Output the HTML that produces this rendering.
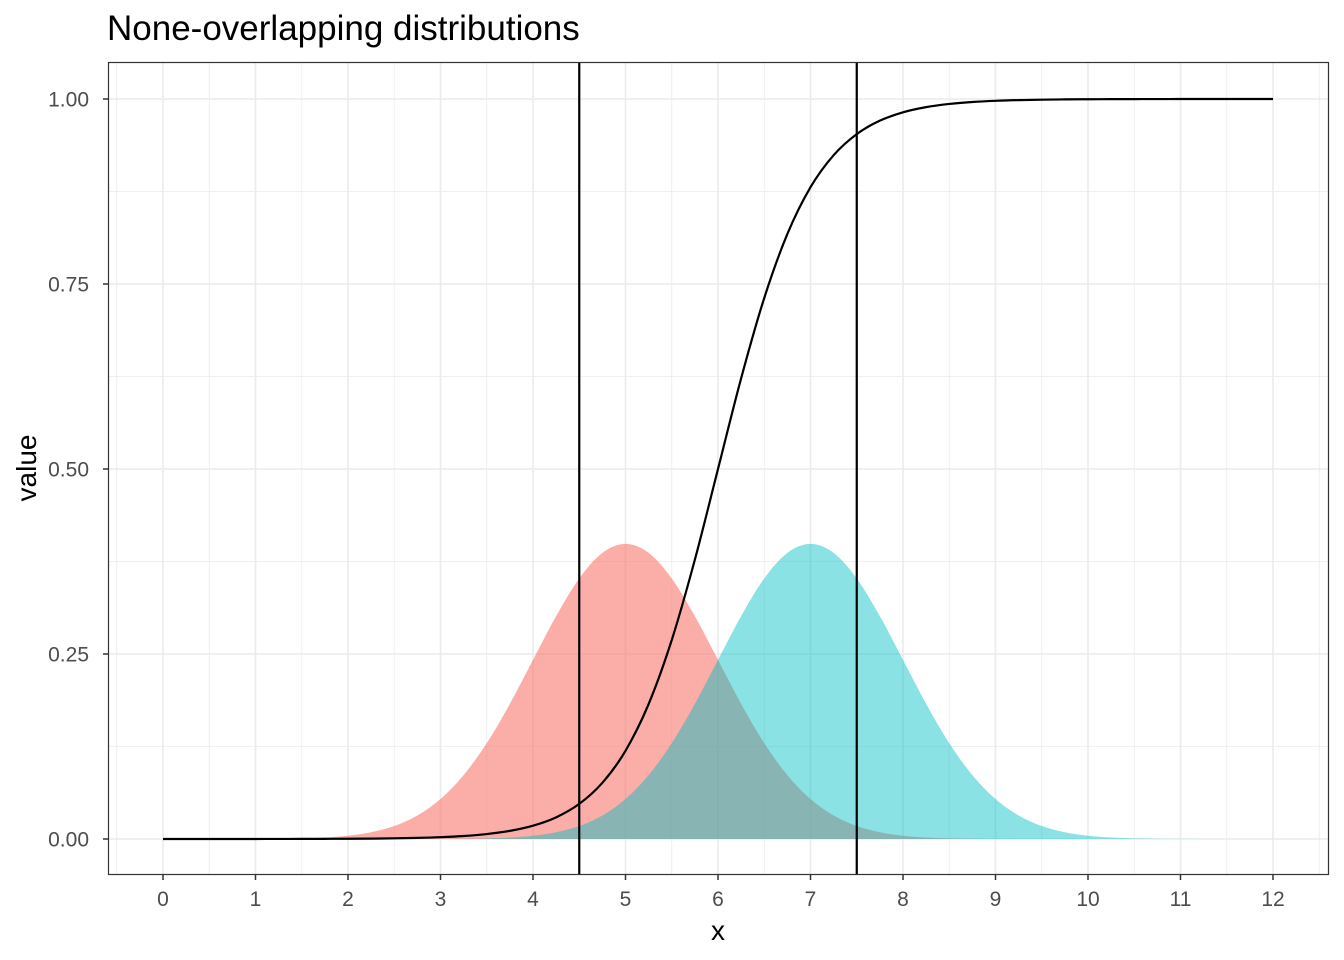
<!DOCTYPE html>
<html><head><meta charset="utf-8"><style>
body{margin:0;background:#fff}
svg{display:block;font-family:"Liberation Sans",Arial,sans-serif}
</style></head><body>
<svg id="chart" width="1344" height="960" xmlns="http://www.w3.org/2000/svg">
<rect width="1344" height="960" fill="#fff"/>
<text x="107" y="40" font-size="35" fill="#000">None-overlapping distributions</text>
<g id="grid"></g>
<g id="marks"></g>
<rect x="108.5" y="62.5" width="1220" height="812" fill="none" stroke="#333" stroke-width="1.2"/>
<g id="axes"></g>
<text x="718" y="940" font-size="28" text-anchor="middle">x</text>
<text transform="translate(36,468) rotate(-90)" font-size="28" text-anchor="middle">value</text>
</svg>
<script>
const xTicks=[0,1,2,3,4,5,6,7,8,9,10,11,12];
const yTicks=[0,0.25,0.5,0.75,1];
const yTickLabels=["0.00","0.25","0.50","0.75","1.00"];
const vlines=[4.5,7.5];
const xValues=[];for(let i=0;i<=48;i++)xValues.push(i/4);
const redDensity=[0,0,0,0,0.0001,0.0004,0.0009,0.0020,0.0044,0.0091,0.0175,0.0317,0.0540,0.0863,0.1295,0.1826,0.2420,0.3011,0.3521,0.3867,0.3989,0.3867,0.3521,0.3011,0.2420,0.1826,0.1295,0.0863,0.0540,0.0317,0.0175,0.0091,0.0044,0.0020,0.0009,0.0004,0.0001,0,0,0,0,0,0,0,0,0,0,0,0];
const tealDensity=[0,0,0,0,0,0,0,0,0,0,0,0,0.0001,0.0004,0.0009,0.0020,0.0044,0.0091,0.0175,0.0317,0.0540,0.0863,0.1295,0.1826,0.2420,0.3011,0.3521,0.3867,0.3989,0.3867,0.3521,0.3011,0.2420,0.1826,0.1295,0.0863,0.0540,0.0317,0.0175,0.0091,0.0044,0.0020,0.0009,0.0004,0.0001,0,0,0,0];
const posterior=[0.000006,0.00001,0.000017,0.000028,0.000045,0.000075,0.000123,0.000203,0.000335,0.000553,0.000911,0.0015,0.00247,0.00407,0.00669,0.0110,0.0180,0.0293,0.0474,0.0759,0.1192,0.1824,0.2689,0.3775,0.5,0.6225,0.7311,0.8176,0.8808,0.9241,0.9526,0.9707,0.9820,0.9890,0.99331,0.99593,0.99753,0.9985,0.999089,0.999447,0.999665,0.999797,0.999877,0.999925,0.999955,0.999972,0.999983,0.99999,0.999994];

const X=v=>163+v*92.5, Y=v=>839-v*740;
const NS="http://www.w3.org/2000/svg";
function mk(tag,attrs,parent){const e=document.createElementNS(NS,tag);for(const k in attrs)e.setAttribute(k,attrs[k]);document.getElementById(parent).appendChild(e);return e;}
for(let v=-0.5;v<=12.5;v+=0.5){const major=Number.isInteger(v);
 const l=mk('line',{x1:X(v),x2:X(v),y1:62.5,y2:874.5,stroke:'#ebebeb','stroke-width':major?1.6:0.8},'grid');
 
 }
for(let k=0;k<=8;k++){const v=k*0.125;const major=k%2===0;
 const l=mk('line',{x1:108.5,x2:1328.5,y1:Y(v),y2:Y(v),stroke:'#ebebeb','stroke-width':major?1.6:0.8},'grid');
 
 }
function smooth(pts){let d=`M${pts[0][0]},${pts[0][1]}`;
 for(let i=0;i<pts.length-1;i++){const p0=pts[Math.max(i-1,0)],p1=pts[i],p2=pts[i+1],p3=pts[Math.min(i+2,pts.length-1)];
  d+=` C${p1[0]+(p2[0]-p0[0])/6},${p1[1]+(p2[1]-p0[1])/6} ${p2[0]-(p3[0]-p1[0])/6},${p2[1]-(p3[1]-p1[1])/6} ${p2[0]},${p2[1]}`;}
 return d;}
function area(vals,color,op,name){const pts=xValues.map((x,i)=>[X(x),Y(vals[i])]);
 const p=mk('path',{d:smooth(pts)+` L${X(xValues[xValues.length-1])},${Y(0)} L${X(xValues[0])},${Y(0)} Z`,fill:color,'fill-opacity':op},'marks');
 
 }
area(redDensity,'#F8766D',0.6,'red-density-area');
area(tealDensity,'#00BFC4',0.46,'teal-density-area');
const cp=mk('path',{d:smooth(xValues.map((x,i)=>[X(x),Y(posterior[i])])),fill:'none',stroke:'#000','stroke-width':2.2},'marks');


vlines.forEach(v=>{const l=mk('line',{x1:X(v),x2:X(v),y1:62.5,y2:874.5,stroke:'#000','stroke-width':2.2},'marks');
 
 });
xTicks.forEach(v=>{mk('line',{x1:X(v),x2:X(v),y1:874.5,y2:880,stroke:'#333','stroke-width':1.5},'axes');
 const t=mk('text',{x:X(v),y:906,'font-size':21,fill:'#4d4d4d','text-anchor':'middle'},'axes');t.textContent=v;
 
 });
yTicks.forEach((v,i)=>{mk('line',{x1:103,x2:108.5,y1:Y(v),y2:Y(v),stroke:'#333','stroke-width':1.5},'axes');
 const t=mk('text',{x:89,y:Y(v)+7.5,'font-size':21,fill:'#4d4d4d','text-anchor':'end'},'axes');t.textContent=yTickLabels[i];
 
 });
</script>
</body></html>
